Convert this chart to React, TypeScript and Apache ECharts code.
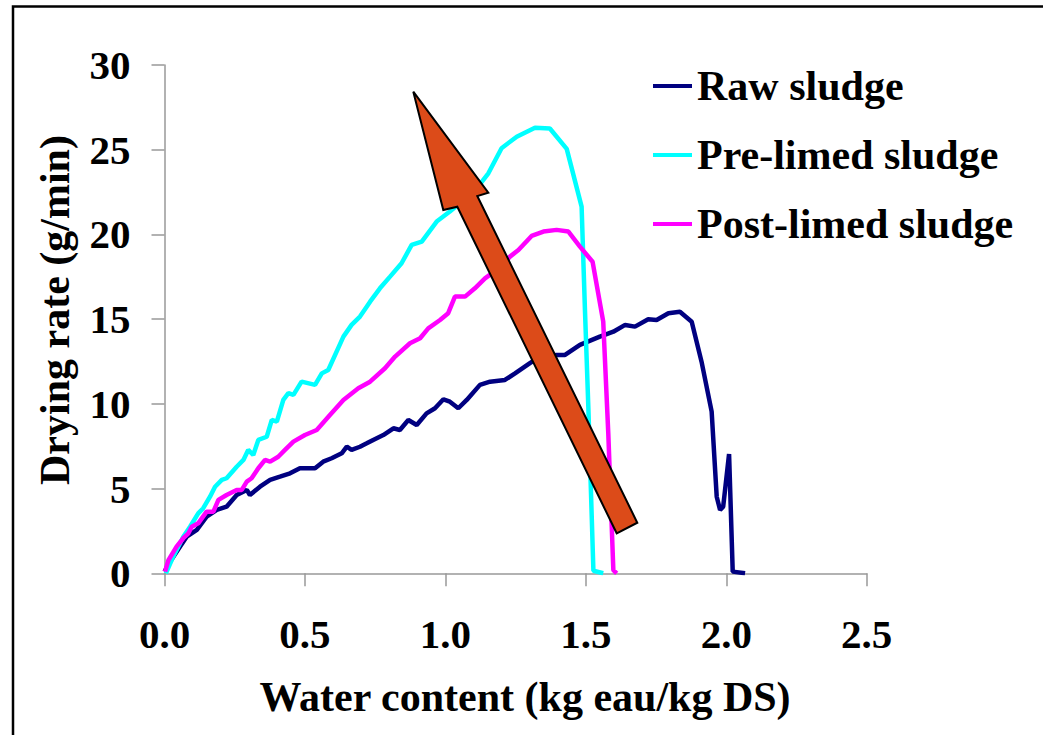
import React, { useEffect, useRef } from "react";
import * as echarts from "echarts";

const rawX = [0.0, 0.02, 0.055, 0.079, 0.115, 0.15, 0.186, 0.221, 0.257, 0.293, 0.304, 0.34, 0.376, 0.411, 0.447, 0.482, 0.536, 0.565, 0.595, 0.631, 0.649, 0.666, 0.696, 0.72, 0.743, 0.779, 0.815, 0.838, 0.868, 0.898, 0.933, 0.963, 0.993, 1.016, 1.046, 1.076, 1.123, 1.159, 1.212, 1.248, 1.301, 1.337, 1.396, 1.426, 1.479, 1.55, 1.598, 1.64, 1.675, 1.722, 1.752, 1.794, 1.835, 1.877, 1.912, 1.948, 1.966, 1.978, 1.989, 2.01, 2.023, 2.067];
const rawY = [0.1, 0.68, 1.57, 2.16, 2.56, 3.34, 3.74, 3.93, 4.62, 4.92, 4.62, 5.11, 5.51, 5.7, 5.9, 6.2, 6.2, 6.59, 6.79, 7.08, 7.47, 7.28, 7.47, 7.67, 7.87, 8.16, 8.56, 8.46, 9.05, 8.75, 9.44, 9.74, 10.27, 10.13, 9.74, 10.23, 11.12, 11.31, 11.41, 11.8, 12.4, 12.79, 12.89, 12.89, 13.48, 13.97, 14.26, 14.66, 14.56, 14.99, 14.95, 15.35, 15.44, 14.85, 12.49, 9.54, 4.52, 3.74, 3.93, 7.04, 0.1, 0.0];

const preX = [0.005, 0.031, 0.067, 0.091, 0.12, 0.138, 0.162, 0.18, 0.204, 0.221, 0.257, 0.281, 0.298, 0.316, 0.334, 0.364, 0.382, 0.4, 0.423, 0.441, 0.459, 0.488, 0.536, 0.56, 0.583, 0.637, 0.666, 0.696, 0.732, 0.767, 0.803, 0.844, 0.88, 0.916, 0.969, 1.016, 1.07, 1.12, 1.153, 1.2, 1.254, 1.319, 1.372, 1.432, 1.485, 1.497, 1.509, 1.527, 1.562];
const preY = [0.0, 0.98, 2.16, 2.75, 3.54, 3.84, 4.52, 5.11, 5.51, 5.61, 6.29, 6.69, 7.28, 6.98, 7.87, 8.06, 9.05, 8.95, 10.23, 10.63, 10.53, 11.31, 11.12, 11.8, 12.0, 13.97, 14.66, 15.15, 16.03, 16.82, 17.51, 18.3, 19.38, 19.58, 20.76, 21.35, 22.1, 22.9, 23.61, 25.09, 25.77, 26.3, 26.25, 25.05, 21.64, 15.5, 9.8, 0.15, 0.0];

const postX = [0.002, 0.014, 0.043, 0.067, 0.085, 0.097, 0.12, 0.15, 0.174, 0.192, 0.221, 0.257, 0.275, 0.293, 0.31, 0.334, 0.358, 0.376, 0.405, 0.429, 0.459, 0.5, 0.542, 0.589, 0.637, 0.69, 0.732, 0.785, 0.821, 0.874, 0.91, 0.939, 0.981, 1.01, 1.034, 1.07, 1.105, 1.141, 1.19, 1.23, 1.26, 1.307, 1.349, 1.396, 1.438, 1.479, 1.524, 1.562, 1.58, 1.598, 1.61];
const postY = [0.1, 0.78, 1.57, 2.07, 2.36, 2.75, 2.95, 3.64, 3.64, 4.33, 4.62, 4.92, 4.92, 5.41, 5.61, 6.2, 6.69, 6.59, 6.88, 7.28, 7.77, 8.16, 8.46, 9.34, 10.23, 10.92, 11.31, 12.1, 12.79, 13.58, 13.87, 14.46, 14.95, 15.35, 16.33, 16.33, 16.82, 17.41, 18.0, 18.69, 19.08, 19.91, 20.17, 20.27, 20.17, 19.28, 18.39, 14.85, 8.26, 0.19, 0.0];

const seriesNames = ["Raw sludge", "Pre-limed sludge", "Post-limed sludge"];
const seriesColors = ["#000080", "#00FFFF", "#FF00FF"];
const xAxisTitle = "Water content (kg eau/kg DS)";
const yAxisTitle = "Drying rate (g/min)";

const FONT = "'Liberation Serif', 'Times New Roman', serif";

export default function App() {
  const ref = useRef<HTMLDivElement>(null);
  useEffect(() => {
    if (!ref.current) return;
    const chart = echarts.init(ref.current, null, { renderer: "svg" });
    const pairs = (xs: number[], ys: number[]) => xs.map((x, i) => [x, ys[i]]);
    const datasets = [pairs(rawX, rawY), pairs(preX, preY), pairs(postX, postY)];
    const labelStyle = { fontFamily: FONT, fontWeight: "bold" as const, fontSize: 41, color: "#000" };
    chart.setOption({
      animation: false,
      backgroundColor: "#fff",
      grid: { left: 164.5, right: 176.3, top: 65, bottom: 161.7 },
      xAxis: {
        type: "value",
        min: 0,
        max: 2.5,
        interval: 0.5,
        axisLine: { lineStyle: { color: "#999", width: 1.5 } },
        axisTick: { length: 13, lineStyle: { color: "#999", width: 1.5 } },
        splitLine: { show: false },
        axisLabel: { ...labelStyle, margin: 40, formatter: (v: number) => v.toFixed(1) },
      },
      yAxis: {
        type: "value",
        min: 0,
        max: 30,
        interval: 5,
        axisLine: { show: true, lineStyle: { color: "#999", width: 1.5 } },
        axisTick: { show: true, length: 13, lineStyle: { color: "#999", width: 1.5 } },
        splitLine: { show: false },
        axisLabel: { ...labelStyle, margin: 34 },
      },
      legend: {
        orient: "vertical",
        left: 648,
        top: 60,
        icon: "rect",
        itemWidth: 39,
        itemHeight: 4,
        itemGap: 27,
        data: seriesNames,
        textStyle: { fontFamily: FONT, fontWeight: "bold", fontSize: 42, color: "#000", lineHeight: 42 },
      },
      series: datasets.map((d, i) => ({
        name: seriesNames[i],
        type: "line",
        data: d,
        showSymbol: false,
        symbol: "none",
        color: seriesColors[i],
        lineStyle: { color: seriesColors[i], width: 4.5 },
        z: 2 + i,
      })),
      graphic: [
        {
          type: "rect",
          shape: { x: 13, y: 6.5, width: 1200, height: 900 },
          style: { fill: "none", stroke: "#000", lineWidth: 2.5 },
          z: 1,
          silent: true,
        },
        {
          type: "polygon",
          shape: {
            points: [
              [413.3, 91.7],
              [488.3, 192.7],
              [477.3, 196],
              [637.3, 522.7],
              [616.7, 533.3],
              [457.3, 206.7],
              [443.3, 210],
            ],
          },
          style: { fill: "#DC4B19", stroke: "#000", lineWidth: 2 },
          z: 100,
        },
        {
          type: "text",
          x: 525,
          y: 697,
          style: { text: xAxisTitle, fontFamily: FONT, fontWeight: "bold", fontSize: 42, fill: "#000", align: "center", verticalAlign: "middle" },
          z: 100,
        },
        {
          type: "text",
          x: 55,
          y: 310,
          rotation: Math.PI / 2,
          style: { text: yAxisTitle, fontFamily: FONT, fontWeight: "bold", fontSize: 42, fill: "#000", align: "center", verticalAlign: "middle" },
          z: 100,
        },
      ],
    });
    return () => chart.dispose();
  }, []);
  return <div ref={ref} style={{ position: "absolute", left: 0, top: 0, width: 1043, height: 735 }} />;
}
